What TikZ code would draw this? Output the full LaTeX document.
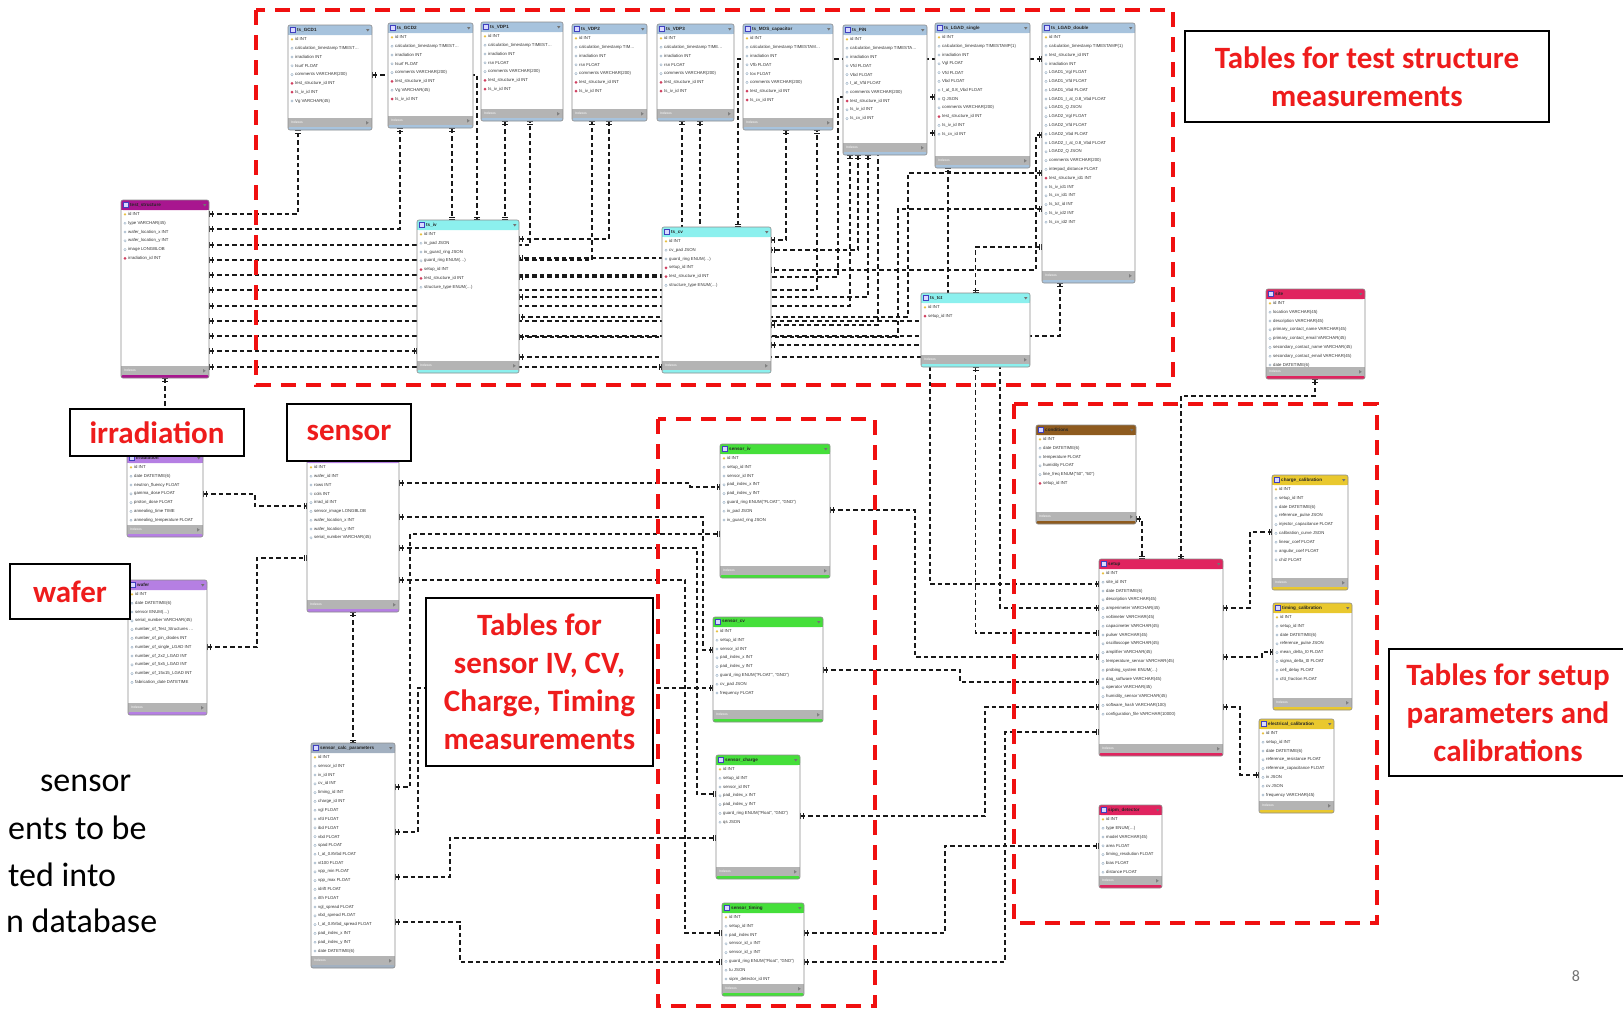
\documentclass[tikz,border=0pt]{standalone}
\usepackage{fontspec}
\setmainfont{Carlito}
\newfontfamily\tabfont{Liberation Sans}
\usetikzlibrary{arrows.meta}
\pgfdeclarelayer{paper}
\pgfdeclarelayer{bg}
\pgfsetlayers{paper,bg,main}
\definecolor{tsblue}{HTML}{A7C3DD}
\definecolor{tscyan}{HTML}{8CF0EE}
\definecolor{tsmag}{HTML}{A8168F}
\definecolor{violet}{HTML}{B57FE3}
\definecolor{calcgray}{HTML}{A2B0C0}
\definecolor{sgreen}{HTML}{45DF3A}
\definecolor{cbrown}{HTML}{8E5B1F}
\definecolor{spink}{HTML}{E0245F}
\definecolor{cyellow}{HTML}{E9C82E}
\definecolor{footgray}{HTML}{B4B4B4}
\definecolor{keyyel}{HTML}{E8C040}
\definecolor{fkred}{HTML}{D04060}
\definecolor{icngray}{HTML}{8FA8C0}
\definecolor{grpred}{HTML}{F01010}
\definecolor{lblred}{HTML}{EE1C1C}

% field icons: key, foreign key, plain column
\newcommand{\icnk}[2]{\fill[keyyel] ({#1},{#2}) circle[radius=1.3pt];}
\newcommand{\icnf}[2]{\fill[fkred] ({#1},{#2-1.5}) -- ({#1+1.5},{#2}) -- ({#1},{#2+1.5}) -- ({#1-1.5},{#2}) -- cycle;}
\newcommand{\icnn}[2]{\draw[icngray, line width=0.35pt] ({#1},{#2}) circle[radius=1.2pt];}

% #1 name, #2 left, #3 top, #4 right, #5 bottom, #6 colour, #7 title, #8 fields
\newcommand{\erdtable}[8]{%
  \node[tblframe, minimum width={(#4-#2)*1pt}, minimum height={(#5-#3)*1pt}] (#1) at ({(#2+#4)/2},{(#3+#5)/2}) {};
  \fill[#6, rounded corners=2pt] ({#2},{#3}) rectangle ({#4},{#3+10});
  \fill[#6] ({#2},{#3+6}) rectangle ({#4},{#3+10});
  \filldraw[fill=white!85!blue, draw=blue!50!gray, line width=0.3pt] ({#2+2.5},{#3+2.5}) rectangle ({#2+7},{#3+7.5});
  \node[tbltitle] at ({#2+9},{#3+5}) {#7};
  \fill[black!55] ({#4-6},{#3+4}) -- ({#4-2.5},{#3+4}) -- ({#4-4.25},{#3+6.5}) -- cycle;
  \foreach \ty/\fd [count=\i] in {#8} {
    \pgfmathsetmacro{\ry}{#3+14.4+(\i-1)*8.8}
    \csname icn\ty\endcsname{#2+4}{\ry}
    \node[tblfield] at ({#2+7},\ry) {\fd};
  }
  \fill[footgray] ({#2},{#5-12}) rectangle ({#4},{#5-2.5});
  \fill[#6, rounded corners=1.5pt] ({#2},{#5-3}) rectangle ({#4},{#5});
  \node[tblfoot] at ({#2+3},{#5-7.2}) {Indexes};
  \fill[black!50] ({#4-6},{#5-9}) -- ({#4-6},{#5-5.4}) -- ({#4-3.2},{#5-7.2}) -- cycle;
  \draw[tblborder] (#1.north west) rectangle (#1.south east);
}

\begin{document}
\begin{tikzpicture}[
  x=1pt, y=-1pt,
  tblframe/.style={rectangle, fill=white, inner sep=0, outer sep=0, rounded corners=2pt},
  tblborder/.style={draw=black!45, line width=0.6pt, rounded corners=2pt},
  tbltitle/.style={anchor=west, inner sep=0, text=black!85, font=\tabfont\bfseries\fontsize{4.6}{5}\selectfont},
  tblfield/.style={anchor=west, inner sep=0, text=black!80, font=\tabfont\fontsize{4.3}{5}\selectfont},
  tblfoot/.style={anchor=west, inner sep=0, text=white, font=\tabfont\fontsize{3.3}{4}\selectfont},
  dbar/.tip={Bar[width=6pt,line width=1pt,sep=1.5pt]Bar[width=6pt,line width=1pt]},
  rel/.style={dash pattern=on 4.5pt off 3pt, line width=1.3pt, black!90, dbar-dbar},
  grp/.style={draw=grpred, line width=3.5pt, dash pattern=on 15pt off 10pt},
  lbl/.style={draw=black, line width=1.3pt, fill=white, text=lblred, align=center, inner sep=0, font=\bfseries\fontsize{31}{38}\selectfont},
  bodytxt/.style={anchor=west, inner sep=0, font=\fontsize{34}{40}\selectfont},
]
\useasboundingbox (0,0) rectangle (1623,1009);
\begin{pgfonlayer}{paper}
\fill[white] (0,0) rectangle (1623,1009);
\end{pgfonlayer}

% Top row: test structure result tables
\erdtable{gcdA}{288}{25}{372}{130}{tsblue}{ts\_GCD1}{k/id INT, n/calculation\_timestamp TIMEST\dots, n/irradiation INT, n/Isurf FLOAT, n/comments VARCHAR(200), f/test\_structure\_id INT, f/ts\_iv\_id INT, n/Vg VARCHAR(45)}
\erdtable{gcdB}{388}{23}{473}{128}{tsblue}{ts\_GCD2}{k/id INT, n/calculation\_timestamp TIMEST\dots, n/irradiation INT, n/Isurf FLOAT, n/comments VARCHAR(200), f/test\_structure\_id INT, n/Vg VARCHAR(45), f/ts\_iv\_id INT}
\erdtable{vdpA}{481}{22}{563}{121}{tsblue}{ts\_VDP1}{k/id INT, n/calculation\_timestamp TIMEST\dots, n/irradiation INT, n/rsn FLOAT, n/comments VARCHAR(200), f/test\_structure\_id INT, f/ts\_iv\_id INT}
\erdtable{vdpB}{572}{24}{647}{121}{tsblue}{ts\_VDP2}{k/id INT, n/calculation\_timestamp TIM\dots, n/irradiation INT, n/rsn FLOAT, n/comments VARCHAR(200), f/test\_structure\_id INT, f/ts\_iv\_id INT}
\erdtable{vdpC}{657}{24}{734}{121}{tsblue}{ts\_VDP3}{k/id INT, n/calculation\_timestamp TIME\dots, n/irradiation INT, n/rsn FLOAT, n/comments VARCHAR(200), f/test\_structure\_id INT, f/ts\_iv\_id INT}
\erdtable{mos}{743}{24}{833}{130}{tsblue}{ts\_MOS\_capacitor}{k/id INT, n/calculation\_timestamp TIMESTAM\dots, n/irradiation INT, n/Vfb FLOAT, n/tox FLOAT, n/comments VARCHAR(200), f/test\_structure\_id INT, f/ts\_cv\_id INT}
\erdtable{pin}{843}{25}{927}{155}{tsblue}{ts\_PiN}{k/id INT, n/calculation\_timestamp TIMESTA\dots, n/irradiation INT, n/Vfd FLOAT, n/Vbd FLOAT, n/I\_at\_Vfd FLOAT, n/comments VARCHAR(200), f/test\_structure\_id INT, n/ts\_iv\_id INT, n/ts\_cv\_id INT}
\erdtable{lgadS}{935}{23}{1030}{168}{tsblue}{ts\_LGAD\_single}{k/id INT, n/calculation\_timestamp TIMESTAMP(1), n/irradiation INT, n/Vgl FLOAT, n/Vfd FLOAT, n/Vbd FLOAT, n/I\_at\_0.8\_Vbd FLOAT, n/Q JSON, n/comments VARCHAR(200), f/test\_structure\_id INT, n/ts\_iv\_id INT, n/ts\_cv\_id INT}
\erdtable{lgadD}{1042}{23}{1135}{283}{tsblue}{ts\_LGAD\_double}{k/id INT, n/calculation\_timestamp TIMESTAMP(1), n/test\_structure\_id INT, n/irradiation INT, n/LGAD1\_Vgl FLOAT, n/LGAD1\_Vfd FLOAT, n/LGAD1\_Vbd FLOAT, n/LGAD1\_I\_at\_0.8\_Vbd FLOAT, n/LGAD1\_Q JSON, n/LGAD2\_Vgl FLOAT, n/LGAD2\_Vfd FLOAT, n/LGAD2\_Vbd FLOAT, n/LGAD2\_I\_at\_0.8\_Vbd FLOAT, n/LGAD2\_Q JSON, n/comments VARCHAR(200), n/interpad\_distance FLOAT, f/test\_structure\_id1 INT, n/ts\_iv\_id1 INT, n/ts\_cv\_id1 INT, n/ts\_tct\_id INT, n/ts\_iv\_id2 INT, n/ts\_cv\_id2 INT}

% Test structure and raw measurement tables
\erdtable{tstruct}{121}{200}{209}{378}{tsmag}{test\_structure}{k/id INT, n/type VARCHAR(45), n/wafer\_location\_x INT, n/wafer\_location\_y INT, n/image LONGBLOB, f/irradiation\_id INT}
\erdtable{tsiv}{417}{220}{519}{373}{tscyan}{ts\_iv}{k/id INT, n/iv\_pad JSON, n/iv\_guard\_ring JSON, n/guard\_ring ENUM(\dots), f/setup\_id INT, f/test\_structure\_id INT, n/structure\_type ENUM(\dots)}
\erdtable{tscv}{662}{227}{771}{373}{tscyan}{ts\_cv}{k/id INT, n/cv\_pad JSON, n/guard\_ring ENUM(\dots), f/setup\_id INT, f/test\_structure\_id INT, n/structure\_type ENUM(\dots)}
\erdtable{tstct}{921}{293}{1030}{367}{tscyan}{ts\_tct}{k/id INT, f/setup\_id INT}
\erdtable{site}{1266}{289}{1365}{379}{spink}{site}{k/id INT, n/location VARCHAR(45), n/description VARCHAR(45), n/primary\_contact\_name VARCHAR(45), n/primary\_contact\_email VARCHAR(45), n/secondary\_contact\_name VARCHAR(45), n/secondary\_contact\_email VARCHAR(45), n/date DATETIME(6)}

% Left: irradiation, wafer, sensor
\erdtable{irrad}{127}{453}{203}{537}{violet}{irradiation}{k/id INT, n/date DATETIME(6), n/neutron\_fluency FLOAT, n/gamma\_dose FLOAT, n/proton\_dose FLOAT, n/annealing\_time TIME, n/annealing\_temperature FLOAT}
\erdtable{sensor}{307}{453}{399}{612}{violet}{sensor}{k/id INT, n/wafer\_id INT, n/rows INT, n/cols INT, n/irrad\_id INT, n/sensor\_image LONGBLOB, n/wafer\_location\_x INT, n/wafer\_location\_y INT, n/serial\_number VARCHAR(45)}
\erdtable{wafer}{128}{580}{207}{715}{violet}{wafer}{k/id INT, n/date DATETIME(6), n/sensor ENUM(\dots), n/serial\_number VARCHAR(45), n/number\_of\_Test\_Structures \dots, n/number\_of\_pin\_diodes INT, n/number\_of\_single\_LGAD INT, n/number\_of\_2x2\_LGAD INT, n/number\_of\_5x5\_LGAD INT, n/number\_of\_15x15\_LGAD INT, n/fabrication\_date DATETIME}
\erdtable{calcpar}{311}{743}{395}{968}{calcgray}{sensor\_calc\_parameters}{k/id INT, n/sensor\_id INT, n/iv\_id INT, n/cv\_id INT, n/timing\_id INT, n/charge\_id INT, n/vgl FLOAT, n/vfd FLOAT, n/ibd FLOAT, n/vbd FLOAT, n/spad FLOAT, n/I\_at\_0.8Vbd FLOAT, n/vt100 FLOAT, n/vpp\_min FLOAT, n/vpp\_max FLOAT, n/idrift FLOAT, n/itth FLOAT, n/vgl\_spread FLOAT, n/vbd\_spread FLOAT, n/I\_at\_0.8Vbd\_spread FLOAT, n/pad\_index\_x INT, n/pad\_index\_y INT, n/date DATETIME(6)}

% Middle: sensor measurement tables
\erdtable{siv}{720}{444}{830}{578}{sgreen}{sensor\_iv}{k/id INT, n/setup\_id INT, n/sensor\_id INT, n/pad\_index\_x INT, n/pad\_index\_y INT, n/{guard\_ring ENUM("FLOAT", "GND")}, n/iv\_pad JSON, n/iv\_guard\_ring JSON}
\erdtable{scv}{713}{617}{823}{722}{sgreen}{sensor\_cv}{k/id INT, n/setup\_id INT, n/sensor\_id INT, n/pad\_index\_x INT, n/pad\_index\_y INT, n/{guard\_ring ENUM("FLOAT", "GND")}, n/cv\_pad JSON, n/frequency FLOAT}
\erdtable{scharge}{716}{755}{800}{879}{sgreen}{sensor\_charge}{k/id INT, n/setup\_id INT, n/sensor\_id INT, n/pad\_index\_x INT, n/pad\_index\_y INT, n/{guard\_ring ENUM("Float", "GND")}, n/qs JSON}
\erdtable{stiming}{722}{903}{804}{996}{sgreen}{sensor\_timing}{k/id INT, n/setup\_id INT, n/pad\_index INT, n/sensor\_id\_x INT, n/sensor\_id\_y INT, n/{guard\_ring ENUM("Float", "GND")}, n/tu JSON, n/sipm\_detector\_id INT}

% Right: setup and calibrations
\erdtable{cond}{1036}{425}{1136}{524}{cbrown}{conditions}{k/id INT, n/date DATETIME(6), n/temperature FLOAT, n/humidity FLOAT, n/{line\_freq ENUM("50", "60")}, f/setup\_id INT}
\erdtable{setup}{1099}{559}{1223}{756}{spink}{setup}{k/id INT, n/site\_id INT, n/date DATETIME(6), n/description VARCHAR(45), n/amperimeter VARCHAR(45), n/voltimeter VARCHAR(45), n/capacimeter VARCHAR(45), n/pulser VARCHAR(45), n/oscilloscope VARCHAR(45), n/amplifier VARCHAR(45), n/temperature\_sensor VARCHAR(45), n/probing\_system ENUM(\dots), n/daq\_software VARCHAR(45), n/operator VARCHAR(45), n/humidity\_sensor VARCHAR(45), n/software\_hash VARCHAR(100), n/configuration\_file VARCHAR(10000)}
\erdtable{sipm}{1099}{805}{1162}{888}{spink}{sipm\_detector}{k/id INT, n/type ENUM(\dots), n/model VARCHAR(45), n/area FLOAT, n/timing\_resolution FLOAT, n/bias FLOAT, n/distance FLOAT}
\erdtable{ccal}{1272}{475}{1348}{590}{cyellow}{charge\_calibration}{k/id INT, n/setup\_id INT, n/date DATETIME(6), n/reference\_pulse JSON, n/injector\_capacitance FLOAT, n/calibration\_curve JSON, n/linear\_coef FLOAT, n/angular\_coef FLOAT, n/chi2 FLOAT}
\erdtable{tcal}{1273}{603}{1352}{710}{cyellow}{timing\_calibration}{k/id INT, n/setup\_id INT, n/date DATETIME(6), n/reference\_pulse JSON, n/mean\_delta\_t0 FLOAT, n/sigma\_delta\_t0 FLOAT, n/cell\_delay FLOAT, n/cfd\_fraction FLOAT}
\erdtable{ecal}{1259}{719}{1334}{813}{cyellow}{electrical\_calibration}{k/id INT, n/setup\_id INT, n/date DATETIME(6), n/reference\_resistance FLOAT, n/reference\_capacitance FLOAT, n/iv JSON, n/cv JSON, n/frequency VARCHAR(45)}

% Relations, drawn behind the tables
\begin{pgfonlayer}{bg}
% test_structure_id
\draw[rel] (tstruct.east |- 0,214) -| (298,0 |- gcdA.south);
\draw[rel] (tstruct.east |- 0,229) -| (400,0 |- gcdB.south);
\draw[rel] (tstruct.east |- 0,245) -| (530,0 |- vdpA.south);
\draw[rel] (tstruct.east |- 0,260) -| (592,0 |- vdpB.south);
\draw[rel] (tstruct.east |- 0,275) -| (682,0 |- vdpC.south);
\draw[rel] (tstruct.east |- 0,290) -| (817,0 |- mos.south);
\draw[rel] (tstruct.east |- 0,306) -| (850,0 |- pin.south);
\draw[rel] (tstruct.east |- 0,321) -| (948,0 |- lgadS.south);
\draw[rel] (tstruct.east |- 0,336) -| (1060,0 |- lgadD.south);
\draw[rel] (tstruct.east |- 0,351) -- (tsiv.west |- 0,351);
\draw[rel] (tstruct.east |- 0,367) -- (tscv.west |- 0,367);
% ts_iv_id
\draw[rel] (gcdA.east |- 0,75) -| (477,0 |- tsiv.north);
\draw[rel] (452,0 |- gcdB.south) -- (452,0 |- tsiv.north);
\draw[rel] (505,0 |- vdpA.south) -- (505,0 |- tsiv.north);
\draw[rel] (609,0 |- vdpB.south) |- (tsiv.east |- 0,239);
\draw[rel] (700,0 |- vdpC.south) |- (tsiv.east |- 0,258);
\draw[rel] (868,0 |- pin.south) |- (tsiv.east |- 0,297);
\draw[rel] (lgadS.west |- 0,97) -| (838,277) -- (tsiv.east |- 0,277);
\draw[rel] (lgadD.west |- 0,173) -| (908,317) -- (tsiv.east |- 0,317);
\draw[rel] (lgadD.west |- 0,209) -| (898,337) -- (tsiv.east |- 0,337);
% ts_cv_id and ts_tct_id
\draw[rel] (786,0 |- mos.south) |- (tscv.east |- 0,240);
\draw[rel] (858,0 |- pin.south) |- (tscv.east |- 0,250);
\draw[rel] (lgadS.west |- 0,133) -| (878,325) -- (tscv.east |- 0,325);
\draw[rel] (lgadD.west |- 0,59) -| (738,0 |- tscv.north);
\draw[rel] (lgadD.west |- 0,135) -| (1036,270) -- (tscv.east |- 0,270);
\draw[rel] (tstct.north) |- (lgadD.west |- 0,247);
% setup_id from the measurement tables
\draw[rel] (tsiv.east |- 0,357) -| (930,584) -- (setup.west |- 0,584);
\draw[rel] (tscv.east |- 0,345) -| (1000,608) -- (setup.west |- 0,608);
\draw[rel] (tstct.south) |- (setup.west |- 0,633);
\draw[rel] (siv.east |- 0,510) -| (915,657) -- (setup.west |- 0,657);
\draw[rel] (scv.east |- 0,670) -| (960,682) -- (setup.west |- 0,682);
\draw[rel] (scharge.east |- 0,816) -| (985,707) -- (setup.west |- 0,707);
\draw[rel] (stiming.east |- 0,962) -| (1005,732) -- (setup.west |- 0,732);
\draw[rel] (stiming.east |- 0,933) -| (945,846) -- (sipm.west |- 0,846);
% setup neighbours
\draw[rel] (cond.east |- 0,519) -| (1142,0 |- setup.north);
\draw[rel] (1181,0 |- setup.north) |- (1315,396) -- (1315,0 |- site.south);
\draw[rel] (setup.east |- 0,608) -| (1250,532) -- (ccal.west |- 0,532);
\draw[rel] (setup.east |- 0,657) -| (1262,652) -- (tcal.west |- 0,652);
\draw[rel] (setup.east |- 0,707) -| (1240,775) -- (ecal.west |- 0,775);
% irradiation, wafer, sensor
\draw[rel] (tstruct.south -| irrad.north) -- (irrad.north);
\draw[rel] (irrad.east |- 0,494) -| (255,506) -- (sensor.west |- 0,506);
\draw[rel] (wafer.east |- 0,647) -| (257,558) -- (sensor.west |- 0,558);
\draw[rel] (sensor.south) -- (sensor.south |- calcpar.north);
\draw[rel] (sensor.east |- 0,483) -| (690,487) -- (siv.west |- 0,487);
\draw[rel] (sensor.east |- 0,517) -| (703,650) -- (scv.west |- 0,650);
\draw[rel] (sensor.east |- 0,548) -| (697,794) -- (scharge.west |- 0,794);
\draw[rel] (sensor.east |- 0,580) -| (685,933) -- (stiming.west |- 0,933);
% calc parameters
\draw[rel] (calcpar.east |- 0,787) -| (410,534) -- (siv.west |- 0,534);
\draw[rel] (calcpar.east |- 0,832) -| (418,688) -- (scv.west |- 0,688);
\draw[rel] (calcpar.east |- 0,877) -| (450,838) -- (scharge.west |- 0,838);
\draw[rel] (calcpar.east |- 0,922) -| (460,962) -- (stiming.west |- 0,962);
\end{pgfonlayer}

% Red dashed groups
\draw[grp] (256,10) rectangle (1173,385);
\draw[grp] (658,419) rectangle (875,1006);
\draw[grp] (1014,404) rectangle (1377,923);

% Group and table labels
\node[lbl, minimum width=364pt, minimum height=91pt] (lblts) at (1367,76.5) {Tables for test structure\\measurements};
\node[lbl, minimum width=174pt, minimum height=47pt] (lblirr) at (157,432.5) {irradiation};
\node[lbl, minimum width=124pt, minimum height=57pt] (lblsen) at (349,432.5) {sensor};
\node[lbl, minimum width=120pt, minimum height=55pt] (lblwaf) at (70,591.5) {wafer};
\node[lbl, minimum width=227pt, minimum height=168pt] (lblsm) at (539.5,682) {Tables for\\sensor IV, CV,\\Charge, Timing\\measurements};
\node[lbl, minimum width=238pt, minimum height=127pt] (lblsp) at (1508,712.5) {Tables for setup\\parameters and\\calibrations};

% Cut-off slide text on the left
\node[bodytxt] (bodyA) at (40,783) {sensor};
\node[bodytxt] (bodyB) at (8,828) {ents to be};
\node[bodytxt] (bodyC) at (8,875) {ted into};
\node[bodytxt] (bodyD) at (6,921) {n database};
\node[text=black!55, font=\fontsize{16}{18}\selectfont] (pgnum) at (1576,976) {8};
\end{tikzpicture}
\end{document}
